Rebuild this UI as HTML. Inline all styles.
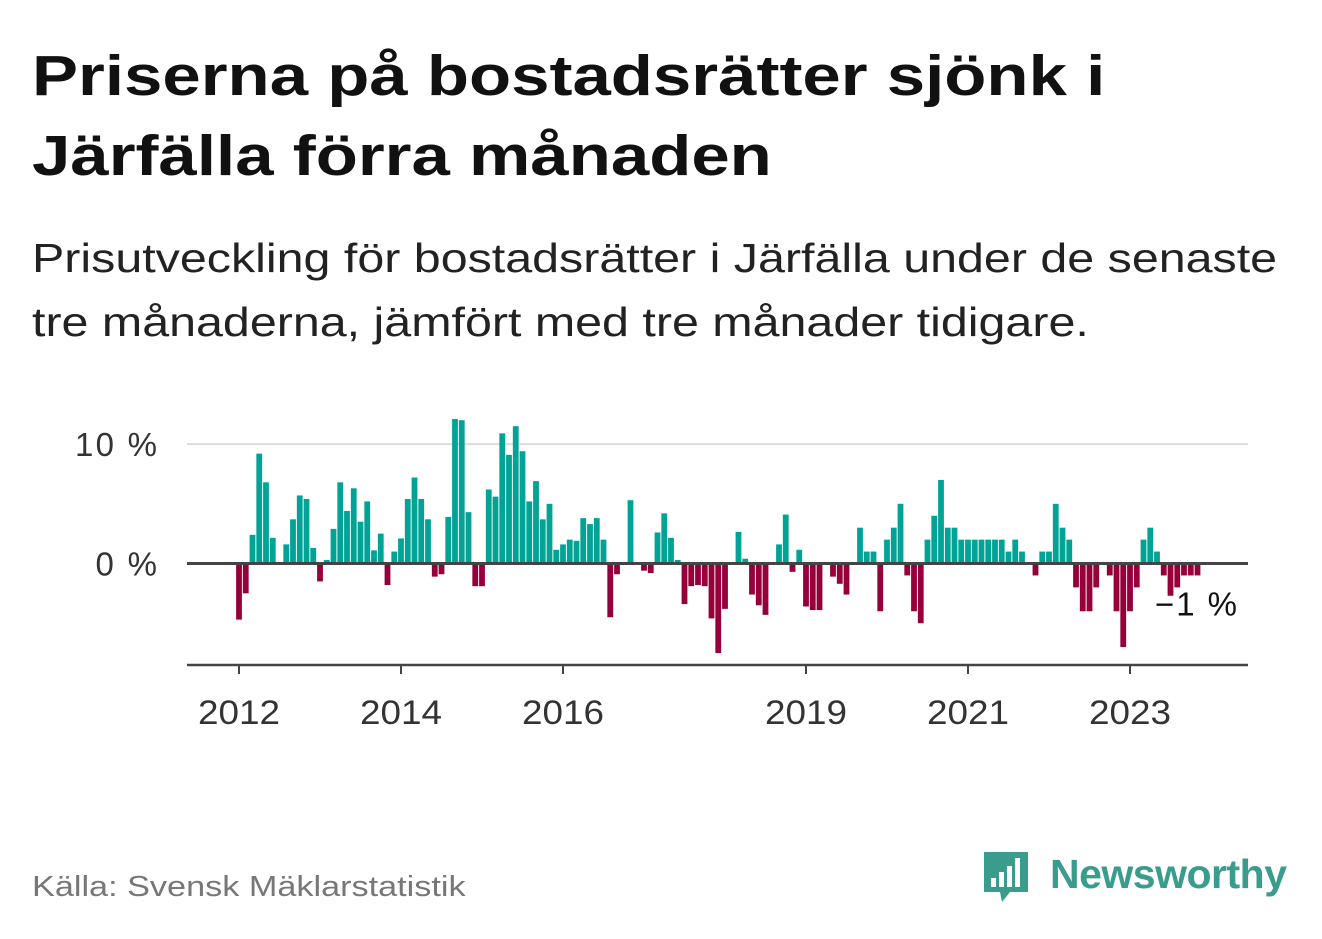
<!DOCTYPE html>
<html><head><meta charset="utf-8">
<style>
body{margin:0;width:1322px;height:939px;background:#fff;font-family:"Liberation Sans",sans-serif;overflow:hidden;position:relative}
h1{position:absolute;left:32px;top:36px;margin:0;font-size:57px;line-height:80px;font-weight:bold;color:#111;transform:scaleX(1.21);transform-origin:0 0;white-space:nowrap}
.sub{position:absolute;left:32px;top:226px;margin:0;font-size:41px;line-height:64px;color:#222;transform:scaleX(1.18);transform-origin:0 0;white-space:nowrap}
.src{position:absolute;left:32px;top:871px;font-size:29px;color:#777;transform:scaleX(1.18);transform-origin:0 0;white-space:nowrap}
.logo{position:absolute;left:982px;top:848px}
</style></head><body>
<h1>Priserna på bostadsrätter sjönk i<br>Järfälla förra månaden</h1>
<p class="sub">Prisutveckling för bostadsrätter i Järfälla under de senaste<br>tre månaderna, jämfört med tre månader tidigare.</p>
<svg id="chart" width="1322" height="939" style="position:absolute;left:0;top:0"></svg>
<div class="src">Källa: Svensk Mäklarstatistik</div>
<div class="logo">
<svg width="320" height="62">
<path d="M2 4 h44 v40 h-18 l-8 10 l-2 -10 h-16 z" fill="#3a9c8c"/>
<rect x="9" y="30" width="5" height="9" fill="#fff"/><rect x="17" y="24" width="5" height="15" fill="#fff"/><rect x="25" y="18" width="5" height="21" fill="#fff"/><rect x="33" y="10" width="5" height="29" fill="#fff"/>
<text x="68" y="40" font-family="Liberation Sans, sans-serif" font-size="41" font-weight="bold" fill="#3a9c8c" textLength="237">Newsworthy</text>
</svg></div>
<script>
const years = [2012, 2014, 2016, 2019, 2021, 2023];
const yTicks = [0, 10];
const values = [
-4.7,-2.5,2.4,9.2,6.8,2.15,0,1.6,3.7,5.7,5.4,1.3,
-1.5,0.3,2.9,6.8,4.4,6.3,3.5,5.2,1.1,2.5,-1.8,1.0,
2.1,5.4,7.2,5.4,3.7,-1.1,-0.9,3.9,12.1,12.0,4.3,-1.9,
-1.9,6.2,5.6,10.9,9.1,11.5,9.4,5.2,6.9,3.7,5.0,1.15,
1.6,2.0,1.9,3.8,3.3,3.8,2.0,-4.5,-0.9,0,5.3,0,
-0.6,-0.8,2.6,4.2,2.15,0.3,-3.4,-1.9,-1.8,-1.9,-4.6,-7.5,
-3.8,0,2.65,0.4,-2.6,-3.5,-4.3,0,1.6,4.1,-0.7,1.15,
-3.6,-3.9,-3.9,0,-1.1,-1.7,-2.6,0,3.0,1.0,1.0,-4.0,
2.0,3.0,5.0,-1.0,-4.0,-5.0,2.0,4.0,7.0,3.0,3.0,2.0,
2.0,2.0,2.0,2.0,2.0,2.0,1.0,2.0,1.0,0,-1.0,1.0,
1.0,5.0,3.0,2.0,-2.0,-4.0,-4.0,-2.0,0,-1.0,-4.0,-7.0,
-4.0,-2.0,2.0,3.0,1.0,-1.0,-2.7,-2.0,-1.0,-1.0,-1.0
];
const lastLabel = "−1 %";
const svg = document.getElementById('chart');
const NS = 'http://www.w3.org/2000/svg';
const x = i => 239 + i * 6.75;
const xYear = yr => 239 + (yr - 2012) * 12 * 6.75;
const y = v => 563.5 - v * 11.94;
function mk(tag, attrs){const e=document.createElementNS(NS,tag);for(const k in attrs)e.setAttribute(k,attrs[k]);svg.appendChild(e);return e;}
yTicks.forEach(t=>{
  if(t!==0){const g=mk('line',{x1:187,x2:1248,y1:y(t),y2:y(t),stroke:'#ddd','stroke-width':2});
  
  }
  const lab=t+' %';
  const l=mk('text',{x:157,y:y(t)+12,'text-anchor':'end','font-size':33,fill:'#333','font-family':'Liberation Sans, sans-serif',textLength:lab.length*20.5});
  l.textContent=lab;
  
  
});
values.forEach((v,i)=>{
  if(v===0)return;
  const r=mk('rect',{x:x(i)-2.9,width:5.8,y:v>0?y(v):y(0),height:Math.abs(y(v)-y(0)),fill:v>0?'#00a396':'#96003a'});
  
  
});
const z=mk('line',{x1:187,x2:1248,y1:y(0),y2:y(0),stroke:'#444','stroke-width':3});


const ax=mk('line',{x1:187,x2:1248,y1:665,y2:665,stroke:'#444','stroke-width':2.5});


years.forEach(yr=>{
  const t=mk('line',{x1:xYear(yr),x2:xYear(yr),y1:665,y2:674,stroke:'#444','stroke-width':2});
  
  
  const l=mk('text',{x:xYear(yr),y:724,'text-anchor':'middle','font-size':34,fill:'#333','font-family':'Liberation Sans, sans-serif',textLength:82,lengthAdjust:'spacingAndGlyphs'});
  l.textContent=yr;
  
  
});
const li=values.length-1;
const lab=mk('text',{x:1155,y:y(values[li])+40,'font-size':33,fill:'#111','font-family':'Liberation Sans, sans-serif',textLength:82});
lab.textContent=lastLabel;


</script>
</body></html>
